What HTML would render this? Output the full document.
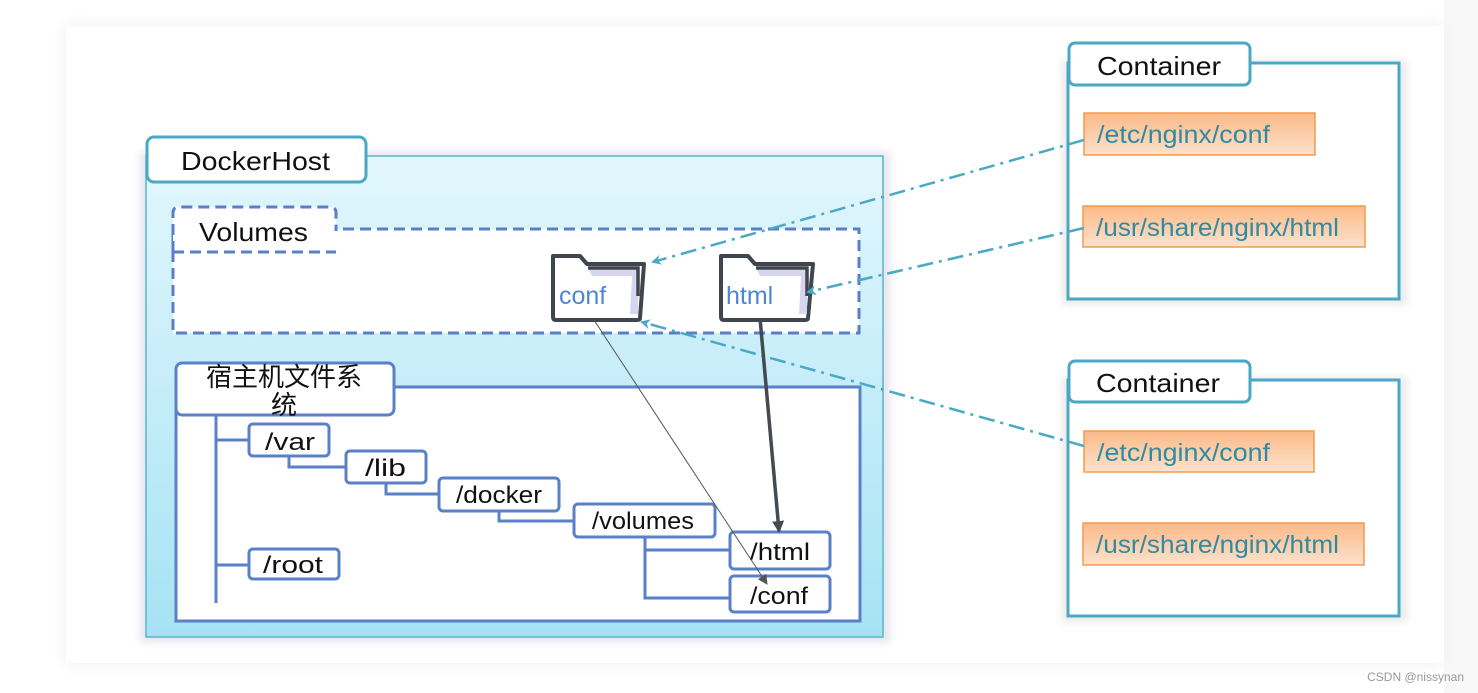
<!DOCTYPE html>
<html><head><meta charset="utf-8"><style>
body{margin:0;width:1478px;height:693px;background:#fff;overflow:hidden;font-family:"Liberation Sans","Noto Sans CJK SC",sans-serif;}
</style></head><body>
<svg width="1478" height="693" viewBox="0 0 1478 693" xmlns="http://www.w3.org/2000/svg" style="position:absolute;left:0;top:0">
<defs>
<filter id="sh" x="-10%" y="-10%" width="120%" height="120%"><feGaussianBlur stdDeviation="8"/></filter>
<filter id="sm" x="-10%" y="-10%" width="130%" height="130%"><feGaussianBlur stdDeviation="4"/></filter>
<linearGradient id="dh" x1="0" y1="0" x2="0" y2="1"><stop offset="0" stop-color="#e2f7fd"/><stop offset="1" stop-color="#a6e2f4"/></linearGradient>
<linearGradient id="or" x1="0" y1="0" x2="0" y2="1"><stop offset="0" stop-color="#fbb987"/><stop offset="1" stop-color="#fde2cc"/></linearGradient>
<marker id="ab" markerWidth="10" markerHeight="10" refX="8" refY="5" orient="auto" markerUnits="userSpaceOnUse"><path d="M0,0 L10,5 L0,10 L3,5 Z" fill="#4aa9c4"/></marker>
<marker id="ad" markerWidth="12" markerHeight="12" refX="10" refY="6" orient="auto" markerUnits="userSpaceOnUse"><path d="M0,0 L12,6 L0,12 Z" fill="#444a50"/></marker>
<marker id="ag" markerWidth="10" markerHeight="10" refX="9" refY="5" orient="auto" markerUnits="userSpaceOnUse"><path d="M0,0 L10,5 L0,10 Z" fill="#555"/></marker>
</defs>
<rect x="1444" y="0" width="34" height="693" fill="#f8f8f8"/>
<rect x="66" y="26" width="1378" height="637" fill="#eee" filter="url(#sh)"/>
<rect x="66" y="26" width="1378" height="637" fill="#fff"/>
<!-- DockerHost -->
<rect x="140" y="152" width="750" height="490" fill="#ccd" opacity="0.5" filter="url(#sm)"/>
<rect x="146" y="156" width="737" height="481" fill="url(#dh)" stroke="#5ab4cc" stroke-width="1.5"/>
<rect x="147" y="137" width="219" height="45" rx="7" fill="#fff" stroke="#4aa8c4" stroke-width="3"/>
<text x="181" y="170" font-size="26" fill="#111" textLength="149" lengthAdjust="spacingAndGlyphs">DockerHost</text>
<!-- Volumes -->
<rect x="173" y="229" width="686" height="104" fill="#fff" stroke="#5a7fc4" stroke-width="3" stroke-dasharray="11,6"/>
<path d="M173,252 L173,213 Q173,207 179,207 L330,207 Q336,207 336,213 L336,231" fill="#fff" stroke="#5a7fc4" stroke-width="3" stroke-dasharray="11,6"/>
<rect x="175" y="230" width="159" height="20" fill="#fff"/>
<path d="M173,252 L336,252" stroke="#5a7fc4" stroke-width="3" stroke-dasharray="11,6"/>
<text x="199" y="241" font-size="26" fill="#111" textLength="109" lengthAdjust="spacingAndGlyphs">Volumes</text>
<!-- folders -->
<g stroke="#40464e" stroke-width="4" stroke-linejoin="round">
<path d="M553,256 L580,256 L587,264 L644,264 L640,318 Q640,320 637,320 L556,320 Q553,320 553,317 Z" fill="#fff"/>
<path d="M721,256 L748,256 L755,264 L813,264 L808,318 Q808,320 805,320 L724,320 Q721,320 721,317 Z" fill="#fff"/>
</g>
<path d="M588,268 L638,268 L638,314 L630,314 L632,276 L592,276 Z" fill="#d8d6ee"/>
<path d="M756,268 L807,268 L807,314 L799,314 L801,276 L760,276 Z" fill="#d8d6ee"/>
<path d="M588,268 L638,268 L638,296 M756,268 L807,268 L807,296" stroke="#40464e" stroke-width="3.5" fill="none"/>
<text x="559" y="304" font-size="25" fill="#4f86d4">conf</text>
<text x="726" y="304" font-size="25" fill="#4f86d4">html</text>
<!-- FS -->
<rect x="176" y="387" width="684" height="234" fill="#fff" stroke="#5a80c8" stroke-width="3"/>
<rect x="176" y="363" width="218" height="52" rx="6" fill="#fff" stroke="#5a80c8" stroke-width="3"/>
<text x="284" y="386" font-size="26" fill="#111" text-anchor="middle">宿主机文件系</text>
<text x="284" y="414" font-size="26" fill="#111" text-anchor="middle">统</text>
<g stroke="#5a80c8" stroke-width="3" fill="none">
<path d="M216,415 L216,603 M216,440 L249,440 M216,565 L249,565"/>
<path d="M289,456 L289,467 L346,467 M386,483 L386,494 L439,494 M499,511 L499,521 L574,521 M645,537 L645,598 L730,598 M645,550 L730,550"/>
</g>
<g stroke="#5a80c8" stroke-width="3" fill="#fff">
<rect x="249" y="424" width="80" height="32" rx="4"/>
<rect x="346" y="451" width="80" height="32" rx="4"/>
<rect x="439" y="478" width="120" height="33" rx="4"/>
<rect x="574" y="504" width="141" height="33" rx="4"/>
<rect x="730" y="532" width="100" height="37" rx="4"/>
<rect x="730" y="576" width="100" height="36" rx="4"/>
<rect x="249" y="549" width="90" height="30" rx="4"/>
</g>
<g font-size="24" fill="#111">
<text x="265" y="450" textLength="50" lengthAdjust="spacingAndGlyphs">/var</text>
<text x="365" y="476" textLength="41" lengthAdjust="spacingAndGlyphs">/lib</text>
<text x="456" y="503" textLength="86" lengthAdjust="spacingAndGlyphs">/docker</text>
<text x="592" y="529" textLength="102" lengthAdjust="spacingAndGlyphs">/volumes</text>
<text x="750" y="560" textLength="60" lengthAdjust="spacingAndGlyphs">/html</text>
<text x="750" y="604" textLength="58" lengthAdjust="spacingAndGlyphs">/conf</text>
<text x="263" y="573" textLength="60" lengthAdjust="spacingAndGlyphs">/root</text>
</g>
<!-- Containers -->
<g>
<rect x="1062" y="60" width="345" height="245" fill="#ddd" opacity="0.6" filter="url(#sm)"/>
<rect x="1068" y="63" width="331" height="236" fill="#fff" stroke="#4aa8c4" stroke-width="3"/>
<rect x="1069" y="43" width="181" height="42" rx="6" fill="#fff" stroke="#4aa8c4" stroke-width="3"/>
<text x="1097" y="75" font-size="26" fill="#111" textLength="124" lengthAdjust="spacingAndGlyphs">Container</text>
<rect x="1084" y="113" width="231" height="42" fill="url(#or)" stroke="#f39a4f" stroke-width="1.5"/>
<text x="1097" y="143" font-size="25" fill="#2f8aa3" textLength="173" lengthAdjust="spacingAndGlyphs">/etc/nginx/conf</text>
<rect x="1083" y="206" width="282" height="41" fill="url(#or)" stroke="#f39a4f" stroke-width="1.5"/>
<text x="1096" y="236" font-size="25" fill="#2f8aa3" textLength="243" lengthAdjust="spacingAndGlyphs">/usr/share/nginx/html</text>
</g>
<g>
<rect x="1062" y="377" width="345" height="245" fill="#ddd" opacity="0.6" filter="url(#sm)"/>
<rect x="1068" y="380" width="331" height="236" fill="#fff" stroke="#4aa8c4" stroke-width="3"/>
<rect x="1069" y="361" width="181" height="41" rx="6" fill="#fff" stroke="#4aa8c4" stroke-width="3"/>
<text x="1096" y="392" font-size="26" fill="#111" textLength="124" lengthAdjust="spacingAndGlyphs">Container</text>
<rect x="1084" y="431" width="230" height="41" fill="url(#or)" stroke="#f39a4f" stroke-width="1.5"/>
<text x="1097" y="461" font-size="25" fill="#2f8aa3" textLength="173" lengthAdjust="spacingAndGlyphs">/etc/nginx/conf</text>
<rect x="1083" y="523" width="281" height="42" fill="url(#or)" stroke="#f39a4f" stroke-width="1.5"/>
<text x="1096" y="553" font-size="25" fill="#2f8aa3" textLength="243" lengthAdjust="spacingAndGlyphs">/usr/share/nginx/html</text>
</g>
<!-- connectors -->
<g stroke="#4aa9c4" stroke-width="2.5" fill="none" stroke-dasharray="16,6,3,6">
<path d="M1084,140 L653,262" marker-end="url(#ab)"/>
<path d="M1084,228 L808,292" marker-end="url(#ab)"/>
<path d="M1084,446 L642,322" marker-end="url(#ab)"/>
</g>
<path d="M594,320 L767,584" stroke="#555" stroke-width="1" fill="none" marker-end="url(#ag)"/>
<path d="M760,318 L779,531" stroke="#444a50" stroke-width="3.5" fill="none" marker-end="url(#ad)"/>
<text x="1464" y="681" font-size="12" fill="#999" text-anchor="end">CSDN @nissynan</text>
</svg>
</body></html>
